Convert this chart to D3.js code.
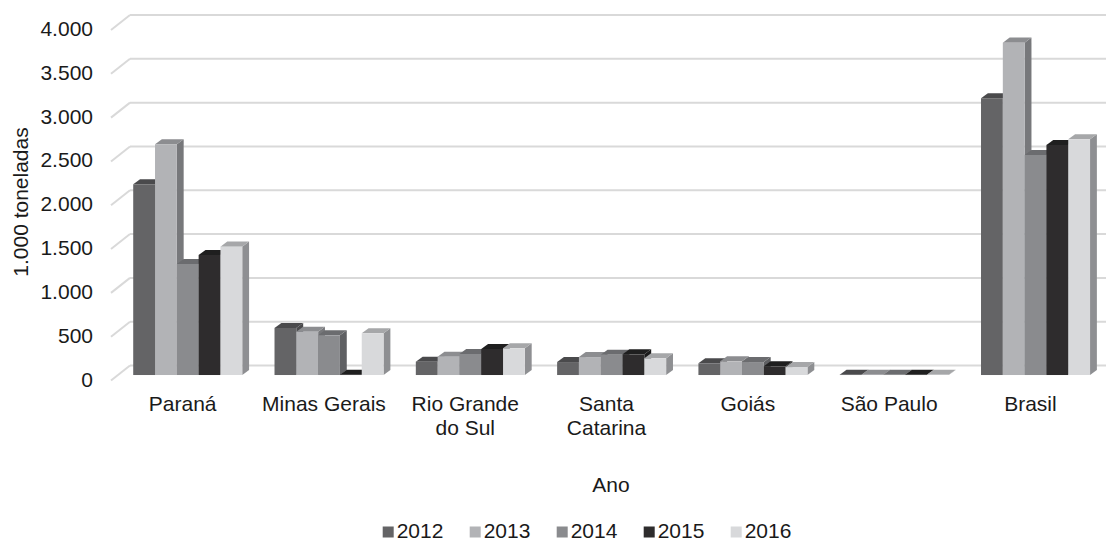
<!DOCTYPE html>
<html>
<head>
<meta charset="utf-8">
<script src="https://cdn.jsdelivr.net/npm/d3@7"></script>
<style>
  html, body { margin: 0; padding: 0; background: #fff; }
  svg { display: block; font-family: "Liberation Sans", Arial, sans-serif; }
</style>
</head>
<body>
<svg id="chart" width="1106" height="541"></svg>
<script>
// ---- data ----
const categories = ["Paraná", "Minas Gerais", "Rio Grande do Sul", "Santa Catarina", "Goiás", "São Paulo", "Brasil"];
const categoryLines = [["Paraná"], ["Minas Gerais"], ["Rio Grande", "do Sul"], ["Santa", "Catarina"], ["Goiás"], ["São Paulo"], ["Brasil"]];
const years = ["2012", "2013", "2014", "2015", "2016"];
const v2012 = [2177, 537, 152, 148, 134, 3, 3159];
const v2013 = [2634, 494, 209, 205, 156, 2, 3793];
const v2014 = [1267, 453, 240, 232, 148, 2, 2511];
const v2015 = [1370, 4, 297, 236, 99, 2, 2626];
const v2016 = [1465, 476, 305, 191, 91, 2, 2690];
const yTicks = [0, 500, 1000, 1500, 2000, 2500, 3000, 3500, 4000];
const yTickLabels = ["0", "500", "1.000", "1.500", "2.000", "2.500", "3.000", "3.500", "4.000"];
const yTitle = "1.000 toneladas";
const xTitle = "Ano";

const series = [v2012, v2013, v2014, v2015, v2016];
const frontColors = ["#646466", "#b2b3b6", "#8a8b8e", "#2e2c2d", "#d8d9db"];
const sideColors  = ["#4a4a4c", "#77787b", "#5f6063", "#1c1c1c", "#8e8f92"];
const topColors   = ["#4a4a4c", "#8c8d90", "#6b6c6f", "#1f1f1f", "#a6a7a9"];

// ---- geometry ----
const svg = d3.select("#chart");
const FS = 21;
const DX = 19, DY = -14;            // full depth offset (front plane -> back wall)
const t0 = 0.32, t1 = 0.68;         // bar depth range
const x = d3.scaleBand().domain(categories).range([111, 1100.1]).paddingInner(0).paddingOuter(0);
const xs = d3.scaleBand().domain(years).range([0, x.bandwidth()]).paddingInner(0).paddingOuter(0.74);
const y = d3.scaleLinear().domain([0, 4000]).range([379.5, 29]);
const textColor = "#1a1a1a";

// gridlines: back wall + left side wall
const grid = svg.append("g");
yTicks.forEach(v => {
  const yf = y(v);
  grid.append("line")
    .attr("x1", x.range()[0] + DX).attr("x2", x.range()[1] + DX)
    .attr("y1", yf + DY).attr("y2", yf + DY)
    .attr("stroke", "#d9d9d9").attr("stroke-width", 2);
  grid.append("line")
    .attr("x1", x.range()[0]).attr("y1", yf + 1)
    .attr("x2", x.range()[0] + DX).attr("y2", yf + DY)
    .attr("stroke", "#d9d9d9").attr("stroke-width", 2);
});

// y tick labels
svg.append("g").selectAll("text").data(yTicks).join("text")
  .attr("x", 93).attr("y", d => y(d) - 0.5)
  .attr("text-anchor", "end").attr("dominant-baseline", "central")
  .attr("font-size", FS).attr("fill", textColor)
  .text((d, i) => yTickLabels[i]);

// bars
const bars = svg.append("g");
categories.forEach((c, ci) => {
  years.forEach((yr, si) => {
    const v = series[si][ci];
    const xl = x(c) + xs(yr) + t0 * DX;
    const xr = xl + xs.bandwidth();
    const yb = y(0) + t0 * DY;
    const yt = y(v) + t0 * DY;
    const dx = (t1 - t0) * DX, dy = (t1 - t0) * DY;
    bars.append("polygon")
      .attr("points", [[xr, yt], [xr + dx, yt + dy], [xr + dx, yb + dy], [xr, yb]].map(p => p.join(",")).join(" "))
      .attr("fill", sideColors[si]);
    bars.append("polygon")
      .attr("points", [[xl, yt], [xl + dx, yt + dy], [xr + dx, yt + dy], [xr, yt]].map(p => p.join(",")).join(" "))
      .attr("fill", topColors[si]);
    bars.append("rect")
      .attr("x", xl).attr("y", yt)
      .attr("width", xs.bandwidth()).attr("height", Math.max(0, yb - yt))
      .attr("fill", frontColors[si]);
  });
});

// category labels
const cl = svg.append("g");
categories.forEach((c, ci) => {
  const cx = x(c) + x.bandwidth() / 2 + 1;
  const t = cl.append("text")
    .attr("x", cx).attr("y", 410.7)
    .attr("text-anchor", "middle").attr("font-size", FS).attr("fill", textColor);
  categoryLines[ci].forEach((ln, li) => {
    t.append("tspan").attr("x", cx).attr("y", 410.7 + li * 24.3).text(ln);
  });
});

// axis titles
svg.append("text")
  .attr("transform", "translate(28,202) rotate(-90)")
  .attr("text-anchor", "middle").attr("font-size", FS).attr("fill", textColor)
  .text(yTitle);
svg.append("text")
  .attr("x", 611).attr("y", 491.7)
  .attr("text-anchor", "middle").attr("font-size", FS).attr("fill", textColor)
  .text(xTitle);

// legend
const leg = svg.append("g");
years.forEach((yr, i) => {
  const lx = 382.7 + i * 87;
  leg.append("rect").attr("x", lx).attr("y", 526.5).attr("width", 11).attr("height", 11).attr("fill", frontColors[i]);
  leg.append("text").attr("x", lx + 14).attr("y", 537.5)
    .attr("font-size", FS).attr("fill", textColor).text(yr);
});
</script>
</body>
</html>
